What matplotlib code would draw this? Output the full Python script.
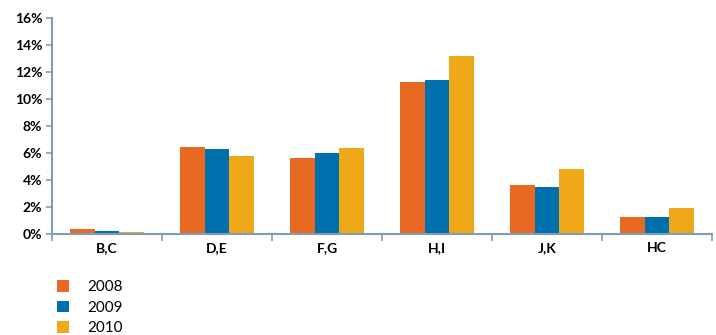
import matplotlib
matplotlib.use("Agg")
import matplotlib.pyplot as plt
from matplotlib.ticker import FixedLocator, FuncFormatter
from matplotlib.patches import Patch
import numpy as np

categories = ["B,C", "D,E", "F,G", "H,I", "J,K", "HC"]
years = ["2008", "2009", "2010"]
share_2008 = [0.37, 6.47, 5.63, 11.26, 3.63, 1.28]
share_2009 = [0.22, 6.30, 6.00, 11.40, 3.48, 1.28]
share_2010 = [0.15, 5.80, 6.37, 13.20, 4.81, 1.95]
colors = ["#E86A22", "#0070AD", "#EFA817"]
y_ticks = [0, 2, 4, 6, 8, 10, 12, 14, 16]

plt.rcParams["font.family"] = ["Lato", "DejaVu Sans"]

fig = plt.figure(figsize=(7.16, 3.35), dpi=100)
ax = fig.add_axes([52 / 716, 101 / 335, 660 / 716, 216 / 335])

x = np.arange(len(categories))
w = 0.227
for i, (vals, c) in enumerate(zip([share_2008, share_2009, share_2010], colors)):
    ax.bar(x + (i - 1) * w, vals, width=w, color=c, linewidth=0)

axis_color = "#7F9DB9"
ax.set_xlim(-0.5, len(categories) - 0.5)
ax.set_ylim(0, 16)
for s in ["top", "right"]:
    ax.spines[s].set_visible(False)
for s in ["left", "bottom"]:
    ax.spines[s].set_color(axis_color)
    ax.spines[s].set_linewidth(1.5)

ax.yaxis.set_major_locator(FixedLocator(y_ticks))
ax.yaxis.set_major_formatter(FuncFormatter(lambda v, p: f"{v:.0f}%"))
ax.tick_params(axis="y", direction="out", length=4, width=1.2, color=axis_color,
               labelsize=10, pad=3)
for t in ax.get_yticklabels():
    t.set_fontweight("bold")

ax.set_xticks(np.arange(-0.5, len(categories), 1.0))
ax.set_xticklabels([])
ax.set_xticks(x, minor=True)
ax.set_xticklabels(categories, minor=True, fontsize=10, fontweight="bold")
ax.tick_params(axis="x", which="major", direction="out", length=5, width=1.2, color=axis_color)
ax.tick_params(axis="x", which="minor", length=0, pad=6)

handles = [Patch(facecolor=c, edgecolor="none") for c in colors]
fig.legend(handles, years, loc="upper left", bbox_to_anchor=(45 / 716, 1 - 268 / 335),
           frameon=False, fontsize=11, handlelength=0.78, handleheight=0.78,
           handletextpad=1.2, labelspacing=0.42, borderpad=0.3)

fig.savefig("out.png", dpi=100)
